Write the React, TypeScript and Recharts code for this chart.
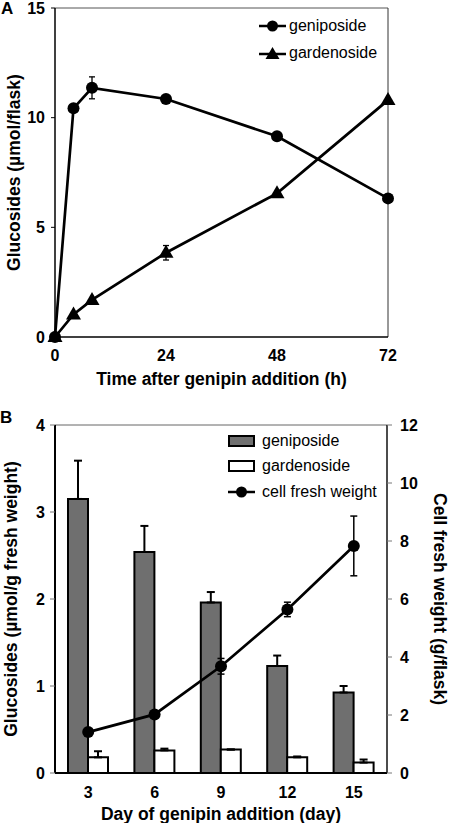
import React from "react";
import { ComposedChart, Line, Bar, XAxis, YAxis, ErrorBar, ReferenceLine, Legend } from "recharts";

// panel A: glucosides per flask over time
const hours = [0, 4, 8, 24, 48, 72];
const geniposideA = [0, 10.43, 11.36, 10.85, 9.15, 6.32];
const geniposideAErr = [0, 0, 0.5, 0.15, 0.1, 0.1];
const gardenosideA = [0, 1.03, 1.69, 3.84, 6.55, 10.8];
const gardenosideAErr = [0, 0, 0, 0.33, 0, 0.1];
const hourTicks = [0, 24, 48, 72];
const flaskTicks = [0, 5, 10, 15];

// panel B: glucosides per fresh weight and cell fresh weight
const days = ["3", "6", "9", "12", "15"];
const geniposideB = [3.15, 2.54, 1.96, 1.23, 0.925];
const geniposideBErr = [0.44, 0.3, 0.12, 0.12, 0.075];
const gardenosideB = [0.18, 0.26, 0.27, 0.18, 0.12];
const gardenosideBErr = [0.07, 0.02, 0, 0.01, 0.035];
const freshWeight = [1.41, 2.02, 3.68, 5.64, 7.83];
const freshWeightErr = [0, 0, 0.27, 0.25, 1.03];
const glucTicks = [0, 1, 2, 3, 4];
const weightTicks = [0, 2, 4, 6, 8, 10, 12];

const FONT = '"Liberation Sans", Arial, sans-serif';
const tickStyle = { fontSize: 16, fontWeight: 700, fill: "#000", fontFamily: FONT };
const titleStyle = { fontSize: 17.5, fontWeight: 700, fill: "#000", fontFamily: FONT, textAnchor: "middle" as const };

const dataA = hours.map((h, i) => ({
  h,
  geniposide: geniposideA[i],
  genErr: geniposideAErr[i],
  gardenoside: gardenosideA[i],
  garErr: gardenosideAErr[i],
}));

const dataB = days.map((day, i) => ({
  day,
  geniposide: geniposideB[i],
  genErr: [0, geniposideBErr[i]],
  gardenoside: gardenosideB[i],
  garErr: [0, gardenosideBErr[i]],
  weight: freshWeight[i],
  weightErr: freshWeightErr[i],
}));

const TriangleDot = (props: any) => {
  const { cx, cy, key } = props;
  if (cx == null || cy == null) return null;
  return <polygon key={key} points={`${cx},${cy - 8} ${cx - 7.5},${cy + 5} ${cx + 7.5},${cy + 5}`} fill="#000" />;
};

const icon = (kind: string) => {
  if (kind === "circle")
    return (
      <svg width={27} height={14}>
        <line x1={0} x2={27} y1={7} y2={7} stroke="#000" strokeWidth={2.5} />
        <circle cx={13.5} cy={7} r={5.5} fill="#000" />
      </svg>
    );
  if (kind === "triangle")
    return (
      <svg width={27} height={14}>
        <line x1={0} x2={27} y1={8} y2={8} stroke="#000" strokeWidth={2.5} />
        <polygon points="13.5,1 6.5,13 20.5,13" fill="#000" />
      </svg>
    );
  return (
    <svg width={27} height={14}>
      <rect x={1} y={2} width={25} height={10} fill={kind} stroke="#000" strokeWidth={2} />
    </svg>
  );
};

// legend rows in a fixed order, icon chosen by dataKey
const makeLegend = (order: string[], icons: Record<string, string>, rowH: number, gap: number) => (props: any) => {
  const items = [...(props.payload || [])].sort(
    (a: any, b: any) => order.indexOf(a.dataKey) - order.indexOf(b.dataKey)
  );
  return (
    <div style={{ fontFamily: FONT, fontSize: 16, color: "#000" }}>
      {items.map((p: any) => (
        <div key={p.value} style={{ display: "flex", alignItems: "center", height: rowH, whiteSpace: "nowrap" }}>
          {icon(icons[p.dataKey])}
          <span style={{ marginLeft: gap }}>{p.value}</span>
        </div>
      ))}
    </div>
  );
};

const legendA = makeLegend(["geniposide", "gardenoside"], { geniposide: "circle", gardenoside: "triangle" }, 27, 3);
const legendB = makeLegend(
  ["geniposide", "gardenoside", "weight"],
  { geniposide: "#6f6f6f", gardenoside: "#ffffff", weight: "circle" },
  25.5,
  7
);

const PanelA = () => (
  <ComposedChart width={450} height={410} data={dataA} margin={{ top: 8, right: 62, bottom: 13, left: 0 }}>
    <XAxis
      dataKey="h"
      type="number"
      domain={[0, 72]}
      ticks={hourTicks}
      interval={0}
      tickLine={false}
      tickSize={0}
      tickMargin={13}
      height={60}
      tick={tickStyle}
      axisLine={{ stroke: "#000", strokeWidth: 1.5 }}
      label={{ value: "Time after genipin addition (h)", position: "insideBottom", offset: 12, style: titleStyle }}
    />
    <YAxis
      type="number"
      domain={[0, 15]}
      ticks={flaskTicks}
      interval={0}
      width={55}
      tickSize={4}
      tickMargin={6}
      tick={tickStyle}
      tickLine={{ stroke: "#000" }}
      axisLine={{ stroke: "#000", strokeWidth: 1.5 }}
      label={{ value: "Glucosides (µmol/flask)", angle: -90, position: "insideLeft", offset: 14, style: titleStyle }}
    />
    <ReferenceLine y={15} stroke="#555" strokeWidth={1} />
    <ReferenceLine x={72} stroke="#333" strokeWidth={1} />
    <Legend layout="vertical" align="center" verticalAlign="middle" wrapperStyle={{ top: 12, left: 259, width: "auto" }} content={legendA} />
    <Line
      dataKey="geniposide"
      name="geniposide"
      type="linear"
      stroke="#000"
      strokeWidth={2.7}
      dot={{ r: 6, fill: "#000", stroke: "#000", strokeWidth: 0 }}
      isAnimationActive={false}
    >
      <ErrorBar dataKey="genErr" width={3} stroke="#000" strokeWidth={1.3} direction="y" />
    </Line>
    <Line
      dataKey="gardenoside"
      name="gardenoside"
      type="linear"
      stroke="#000"
      strokeWidth={2.7}
      dot={TriangleDot}
      isAnimationActive={false}
    >
      <ErrorBar dataKey="garErr" width={3} stroke="#000" strokeWidth={1.3} direction="y" />
    </Line>
  </ComposedChart>
);

const PanelB = () => (
  <ComposedChart
    width={450}
    height={413}
    data={dataB}
    margin={{ top: 15, right: 0, bottom: 0, left: 0 }}
    barGap={0}
  >
    <XAxis
      dataKey="day"
      tickLine={false}
      tickSize={0}
      tickMargin={14}
      height={50}
      tick={tickStyle}
      axisLine={{ stroke: "#000", strokeWidth: 2 }}
      label={{ value: "Day of genipin addition (day)", position: "insideBottom", offset: 3, style: titleStyle }}
    />
    <YAxis
      yAxisId="left"
      type="number"
      domain={[0, 4]}
      ticks={glucTicks}
      interval={0}
      width={55}
      tickSize={5}
      tickMargin={5}
      tick={tickStyle}
      tickLine={{ stroke: "#777" }}
      axisLine={{ stroke: "#000", strokeWidth: 2 }}
      label={{ value: "Glucosides (µmol/g fresh weight)", angle: -90, position: "insideLeft", offset: 11, style: titleStyle }}
    />
    <YAxis
      yAxisId="right"
      orientation="right"
      type="number"
      domain={[0, 12]}
      ticks={weightTicks}
      interval={0}
      width={63}
      tickSize={5}
      tickMargin={8}
      tick={tickStyle}
      tickLine={{ stroke: "#777" }}
      axisLine={{ stroke: "#111", strokeWidth: 1.5 }}
      label={{ value: "Cell fresh weight (g/flask)", angle: 90, position: "insideRight", offset: 10, style: titleStyle }}
    />
    <ReferenceLine yAxisId="left" y={4} stroke="#666" strokeWidth={1} />
    <Legend layout="vertical" align="center" verticalAlign="middle" wrapperStyle={{ top: 18, left: 228, width: "auto" }} content={legendB} />
    <Bar yAxisId="left" dataKey="geniposide" name="geniposide" barSize={20} fill="#6f6f6f" stroke="#000" strokeWidth={2} isAnimationActive={false}>
      <ErrorBar dataKey="genErr" width={4} stroke="#000" strokeWidth={2} direction="y" />
    </Bar>
    <Bar yAxisId="left" dataKey="gardenoside" name="gardenoside" barSize={20} fill="#ffffff" stroke="#000" strokeWidth={2} isAnimationActive={false}>
      <ErrorBar dataKey="garErr" width={4} stroke="#000" strokeWidth={2} direction="y" />
    </Bar>
    <Line
      yAxisId="right"
      dataKey="weight"
      name="cell fresh weight"
      type="linear"
      stroke="#000"
      strokeWidth={2.7}
      dot={{ r: 6, fill: "#000", stroke: "#000", strokeWidth: 0 }}
      isAnimationActive={false}
    >
      <ErrorBar dataKey="weightErr" width={3.5} stroke="#000" strokeWidth={1.5} direction="y" />
    </Line>
  </ComposedChart>
);

const letterStyle: React.CSSProperties = {
  position: "absolute",
  left: 1,
  fontFamily: FONT,
  fontWeight: 700,
  fontSize: 17,
  lineHeight: "17px",
  color: "#000",
};

export default function App() {
  return (
    <div style={{ position: "absolute", left: 0, top: 0, width: 450, height: 823, background: "#fff", overflow: "hidden" }}>
      <div style={{ position: "absolute", left: 0, top: 0 }}>
        <PanelA />
      </div>
      <div style={{ position: "absolute", left: 0, top: 410 }}>
        <PanelB />
      </div>
      <div style={{ ...letterStyle, top: 0 }}>A</div>
      <div style={{ ...letterStyle, top: 409, left: 0 }}>B</div>
    </div>
  );
}
